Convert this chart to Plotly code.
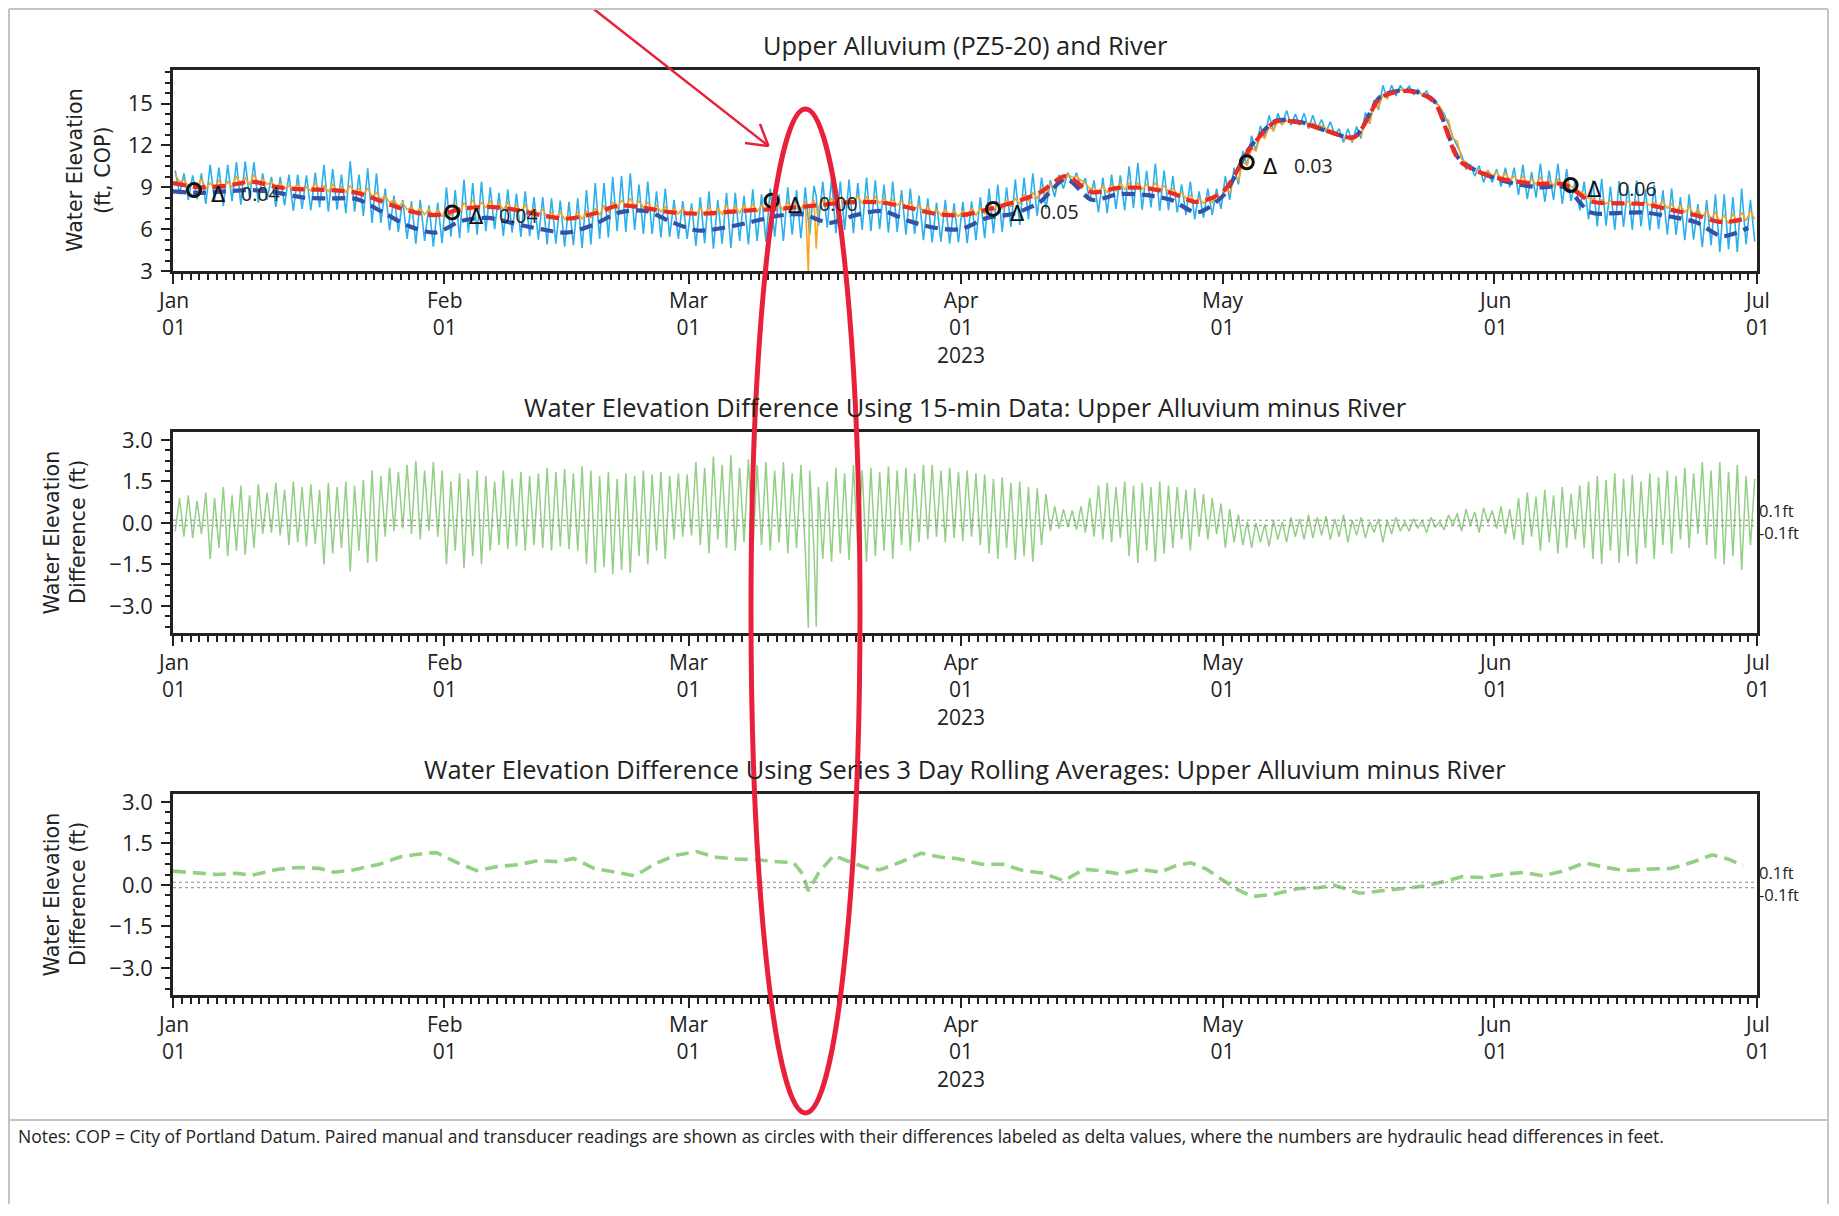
import numpy as np
import pandas as pd
import plotly.graph_objects as go

# ---------------- data ----------------
START = "2023-01-01"
month_names = ["Jan", "Feb", "Mar", "Apr", "May", "Jun", "Jul"]
month_starts = ["2023-01-01", "2023-02-01", "2023-03-01", "2023-04-01",
                "2023-05-01", "2023-06-01", "2023-07-01"]
day_label = "01"
year_label = "2023"
year_month = "Apr"

# Upper alluvium 15-min data, daily low points (day 0 .. 180)
alluv_base = [
    9.4, 9.1, 8.95, 8.9, 8.9, 8.95, 9.0, 9.1, 9.2, 9.3,
    9.2, 9.05, 8.9, 8.8, 8.75, 8.75, 8.75, 8.7, 8.7, 8.65,
    8.6, 8.5, 8.35, 8.15, 7.9, 7.65, 7.4, 7.2, 7.05, 6.95,
    6.9, 6.95, 7.15, 7.35, 7.5, 7.55, 7.5, 7.4, 7.35, 7.3,
    7.2, 7.05, 6.9, 6.8, 6.7, 6.65, 6.7, 6.8, 7.0, 7.25,
    7.45, 7.6, 7.65, 7.55, 7.4, 7.25, 7.15, 7.1, 7.05, 7.0,
    7.0, 7.0, 7.05, 7.1, 7.15, 7.2, 7.25, 7.3, 7.35, 7.35,
    7.4, 7.45, 7.5, 7.55, 7.6, 7.7, 7.75, 7.8, 7.85, 7.85,
    7.85, 7.8, 7.7, 7.6, 7.45, 7.3, 7.15, 7.0, 6.95, 6.9,
    6.9, 7.0, 7.1, 7.3, 7.45, 7.6, 7.8, 8.0, 8.2, 8.5,
    8.9, 9.4, 9.7, 9.5, 8.9, 8.55, 8.6, 8.75, 8.85, 8.85,
    8.85, 8.85, 8.8, 8.7, 8.5, 8.2, 7.95, 7.85, 7.9, 8.15,
    8.6, 9.5, 10.6, 11.6, 12.5, 13.1, 13.5, 13.65, 13.6, 13.5,
    13.4, 13.2, 12.9, 12.5, 12.3, 12.7, 13.6, 14.7, 15.4, 15.75,
    15.85, 15.8, 15.65, 15.4, 14.8, 13.8, 12.3, 10.8, 10.2, 9.9,
    9.8, 9.65, 9.5, 9.35, 9.25, 9.2, 9.15, 9.1, 9.1, 9.05,
    8.7, 8.2, 7.9, 7.8, 7.75, 7.75, 7.7, 7.7, 7.7, 7.65,
    7.5, 7.3, 7.2, 7.05, 6.9, 6.75, 6.55, 6.4, 6.45, 6.6, 6.7,
]
# Upper alluvium 15-min data, daily peak points
alluv_peak = [
    9.9, 9.5, 9.3, 9.6, 9.3, 9.5, 9.4, 9.8, 9.7, 9.9,
    9.6, 9.4, 9.3, 9.1, 9.2, 9.0, 9.3, 9.1, 9.2, 9.0,
    9.1, 8.9, 8.9, 8.6, 8.4, 8.1, 7.9, 7.6, 7.5, 7.4,
    7.4, 7.5, 7.8, 7.9, 8.1, 7.9, 8.0, 7.8, 7.9, 7.7,
    7.7, 7.5, 7.4, 7.2, 7.2, 7.0, 7.2, 7.3, 7.5, 7.7,
    7.9, 8.1, 8.2, 8.0, 7.9, 7.7, 7.6, 7.5, 7.5, 7.4,
    7.5, 7.6, 7.5, 7.7, 7.6, 7.7, 7.8, 7.7, 7.9, 7.8,
    7.9, 7.9, 8.0, 8.1, 8.1, 8.2, 8.3, 8.2, 8.4, 8.3,
    8.3, 8.2, 8.1, 8.0, 7.9, 7.7, 7.6, 7.4, 7.4, 7.3,
    7.3, 7.5, 7.5, 7.8, 7.9, 8.1, 8.2, 8.5, 8.6, 8.9,
    9.2, 9.7, 9.9, 9.8, 9.3, 9.0, 9.1, 9.2, 9.3, 9.3,
    9.3, 9.2, 9.3, 9.1, 8.9, 8.6, 8.4, 8.2, 8.3, 8.5,
    8.9, 9.7, 10.8, 11.8, 12.7, 13.3, 13.7, 13.8, 13.75, 13.7,
    13.6, 13.4, 13.1, 12.7, 12.5, 12.9, 13.8, 14.9, 15.6, 15.9,
    16.0, 15.95, 15.8, 15.55, 15.0, 14.0, 12.5, 11.0, 10.5, 10.2,
    10.2, 10.1, 10.0, 9.8, 9.8, 9.6, 9.7, 9.5, 9.6, 9.4,
    8.9, 8.5, 8.2, 8.1, 8.05, 8.0, 8.0, 8.0, 7.95, 7.9,
    8.0, 7.8, 7.7, 7.6, 7.4, 7.3, 7.2, 7.0, 7.1, 7.2, 7.3,
]
# 15-min difference (alluvium minus river): daily high and low points
diff_hi = [
    0.9, 1.0, 0.8, 1.1, 0.9, 1.3, 1.0, 1.35, 1.0, 1.4, 1.1,
    1.45, 1.2, 1.5, 1.3, 1.4, 1.2, 1.45, 1.3, 1.5, 1.35, 1.55,
    1.9, 1.7, 2.0, 1.85, 2.1, 2.25, 1.9, 2.2, 1.9,
    1.5, 1.8, 1.6, 1.9, 1.7, 1.5, 1.9, 1.6, 1.85, 1.7,
    1.8, 2.0, 1.85, 1.95, 1.8, 2.05, 1.9,
    1.7, 1.85, 1.6, 1.8, 1.7, 1.9, 1.75,
    1.85, 1.7, 1.8, 1.75,
    2.2, 2.0, 2.4, 2.1, 2.45, 2.0, 2.3, 2.1, 2.2,
    1.9, 2.2, 1.8, 2.1, 1.9,
    1.3, 1.5, 2.0, 1.8, 2.1, 1.9, 2.0, 1.85, 2.05, 1.9, 2.0, 1.8, 2.1,
    2.1, 1.9, 2.0, 1.85, 1.9, 1.8, 1.75, 1.6, 1.65, 1.45, 1.5, 1.3, 1.25, 1.05,
    0.6, 0.5, 0.45, 0.6, 0.9,
    1.35, 1.45, 1.3, 1.5, 1.35, 1.45, 1.3, 1.5, 1.35, 1.3, 1.2, 1.25, 1.05,
    0.9, 0.7, 0.5, 0.3,
    0.05, 0.0, -0.05, 0.1, 0.05, 0.2, 0.15, 0.3, 0.2,
    0.25, 0.15, 0.3, 0.1, 0.2, 0.05, 0.15, 0.1, 0.2, 0.05,
    0.15, 0.1, 0.2, 0.05, 0.3, 0.35,
    0.5, 0.4, 0.55, 0.45, 0.6, 0.5,
    0.9, 1.1, 0.95, 1.2, 1.0, 1.3, 1.05, 1.35,
    1.5, 1.7, 1.55, 1.8, 1.6, 1.75, 1.5, 1.8, 1.65, 1.9, 1.7,
    2.0, 1.8, 2.2, 1.9, 2.2, 1.85, 2.1, 1.7, 1.6,
]
diff_lo = [
    -0.3, -0.5, -0.55, -0.4,
    -1.3, -0.9, -1.2, -1.0, -1.15, -0.9,
    -0.4, -0.35, -0.45,
    -0.8, -0.7, -0.85, -0.75, -1.5, -1.1,
    -0.9, -1.75, -1.0, -1.45, -1.4,
    -0.5, -0.3, -0.2, -0.4, -0.6, -0.3, -0.5,
    -1.5, -1.0, -1.65, -1.2, -1.5,
    -1.0, -0.8, -0.95, -0.85, -1.0, -0.8, -0.9, -1.0, -0.85, -0.95, -1.0,
    -1.5, -1.8, -1.6, -1.85, -1.7, -1.8,
    -1.2, -1.5, -1.0, -1.3,
    -0.6, -0.5,
    -0.45, -0.8, -1.1, -0.6, -0.9, -1.0, -0.7, -1.05, -0.8,
    -1.0, -0.7, -1.1, -0.9, -1.0,
    -1.0, -1.3, -1.4, -1.1, -1.35, -0.9, -1.4, -1.2, -1.0, -1.3, -0.8, -1.0, -0.7,
    -0.6, -0.5, -0.7, -0.55, -0.65, -0.5, -0.8, -1.1, -1.3, -0.9, -1.35, -1.2, -1.4, -0.8,
    -0.3, -0.2, -0.15, -0.25, -0.35,
    -0.5, -0.6, -0.7, -0.55, -1.2, -1.45, -1.0, -1.4, -1.1, -0.9, -0.6, -1.0, -0.5,
    -0.6, -0.4, -0.9, -0.7,
    -0.8, -0.9, -0.7, -0.85, -0.6, -0.7, -0.5, -0.6, -0.55,
    -0.45, -0.6, -0.5, -0.7, -0.45, -0.55, -0.35, -0.7, -0.4, -0.3,
    -0.3, -0.2, -0.35, -0.15, -0.25, -0.1,
    -0.3, -0.1, -0.35, 0.0, -0.2, -0.4,
    -0.6, -0.8, -0.5, -1.0, -0.7, -1.1, -0.9, -0.6,
    -0.9, -1.3, -1.5, -1.0, -1.45, -1.2, -1.5, -0.9, -1.3, -0.8, -1.1,
    -0.6, -0.9, -0.4, -0.8, -1.3, -1.5, -1.2, -1.7, -0.8,
]
# transducer glitch in mid-March (day offsets, alluvium value, difference)
glitch_days = [72.6, 73.5]
glitch_alluv = [2.9, 4.6]
glitch_diff = [-3.8, -3.75]

# 3-day rolling averages, every 3 days (day 0 .. 180)
avg_days = list(range(0, 181, 3))
alluv_avg = [9.3, 9.0, 9.1, 9.4, 9.0, 8.85, 8.8, 8.6, 7.95, 7.3,
             7.0, 7.45, 7.6, 7.4, 7.0, 6.75, 7.1, 7.7, 7.5, 7.2,
             7.1, 7.2, 7.35, 7.45, 7.6, 7.8, 7.95, 7.9, 7.55, 7.1,
             7.0, 7.4, 7.9, 8.6, 9.8, 8.65, 8.95, 8.95, 8.6, 7.95,
             8.7, 11.7, 13.7, 13.6, 13.0, 12.6, 15.4, 15.9, 15.2, 10.9,
             9.9, 9.45, 9.25, 9.2, 8.0, 7.85, 7.8, 7.4, 7.0, 6.5, 6.8]
river_avg = [8.7, 8.6, 8.7, 8.8, 8.6, 8.25, 8.2, 8.15, 7.2, 6.2,
             5.75, 6.6, 6.8, 6.4, 6.0, 5.75, 6.3, 7.2, 7.3, 6.5,
             5.9, 6.1, 6.5, 6.95, 7.05, 6.45, 7.0, 7.3, 6.6, 6.1,
             6.0, 6.8, 7.1, 7.9, 9.6, 8.1, 8.5, 8.45, 8.1, 7.2,
             8.4, 11.8, 13.75, 13.65, 13.0, 12.6, 15.5, 15.95, 15.25, 11.0,
             9.9, 9.3, 9.0, 9.0, 7.2, 7.15, 7.2, 6.9, 6.5, 5.5, 6.1]

# rolling-average difference (bottom panel)
avgdiff_days = [0, 1.5, 5, 7.3, 9, 12, 14.3, 16.7, 18.4, 20.7, 23.6, 26, 28.9, 30.1,
                32.4, 34.7, 37.1, 39.4, 41.7, 44.1, 45.8, 48.1, 51, 52.8, 55.1, 57.4,
                59.8, 62.1, 64.4, 66.8, 69.1, 70.9, 72, 72.6, 73.8, 75.5, 77.3, 79.6,
                80.8, 83.1, 85.5, 87.8, 89.5, 92.4, 94.8, 97.1, 99.4, 101.8, 104.1,
                105.8, 108.2, 110.5, 112.8, 114.6, 116.3, 118.1, 119.8, 121.6, 123.3,
                125.7, 128.6, 130.9, 132.7, 135.6, 137.9, 140.3, 143.2, 145.5, 147.3,
                149.6, 152, 154.3, 156.6, 159, 161.3, 163.6, 166, 168.3, 171.2, 173.6,
                175.9, 177.7, 179.4]
avgdiff_vals = [0.5, 0.46, 0.38, 0.42, 0.35, 0.57, 0.63, 0.6, 0.46, 0.55, 0.75, 1.02,
                1.15, 1.17, 0.82, 0.52, 0.67, 0.73, 0.88, 0.84, 0.96, 0.6, 0.42, 0.33,
                0.77, 1.07, 1.21, 1.0, 0.94, 0.91, 0.84, 0.81, 0.38, -0.22, 0.45, 1.07,
                0.84, 0.58, 0.55, 0.82, 1.15, 1.0, 0.96, 0.75, 0.75, 0.52, 0.43, 0.15,
                0.57, 0.52, 0.4, 0.57, 0.46, 0.7, 0.8, 0.57, 0.21, -0.16, -0.42, -0.34,
                -0.13, -0.1, -0.01, -0.3, -0.22, -0.13, -0.03, 0.15, 0.3, 0.27, 0.39,
                0.45, 0.33, 0.52, 0.8, 0.64, 0.52, 0.57, 0.6, 0.82, 1.09, 0.94, 0.7]

# paired manual / transducer readings
pair_days = [2.4, 31.9, 68.4, 93.7, 122.7, 159.7]
pair_vals = [8.8, 7.2, 8.04, 7.45, 10.79, 9.16]
pair_delta = ["0.04", "0.04", "0.00", "0.05", "0.03", "0.06"]

# ---------------- build series ----------------
base_ts = pd.Timestamp(START)


def to_dt(days):
    return base_ts + pd.to_timedelta(np.asarray(days, dtype=float), unit="D")


n = len(alluv_base)
day_idx = np.arange(n)
t = np.empty(2 * n)
t[0::2] = day_idx + 0.25
t[1::2] = day_idx + 0.75
alluv = np.empty(2 * n)
alluv[0::2] = alluv_peak
alluv[1::2] = alluv_base
diff = np.empty(2 * n)
diff[0::2] = diff_lo
diff[1::2] = diff_hi

t = np.concatenate([t, glitch_days])
alluv = np.concatenate([alluv, glitch_alluv])
diff = np.concatenate([diff, glitch_diff])
order = np.argsort(t)
t, alluv, diff = t[order], alluv[order], diff[order]
river = alluv - diff
tx = to_dt(t)

# ---------------- layout helpers ----------------
# The page body keeps its default 8px margin; the figure is kept a bit smaller
# than the window so the page never scrolls, and page-pixel positions are
# converted with that offset.
OFF = 8
FW, FH = 1821, 1196


def fx(px):
    return (px - OFF) / FW


def fy(py):
    return 1 - (py - OFF) / FH


X0, X1 = 173, 1757
panels = [(70, 271), (432, 633), (794, 995)]

BLACK = "#222222"
RED = "#E8203A"
TICKFONT = dict(family="Open Sans", size=22, color=BLACK)
XLABFONT = dict(family="Open Sans", size=21, color=BLACK)

fig = go.Figure()

# top panel
fig.add_trace(go.Scatter(x=tx, y=river, mode="lines",
                         line=dict(color="#2AB0EA", width=1.6),
                         xaxis="x", yaxis="y", showlegend=False))
fig.add_trace(go.Scatter(x=tx, y=alluv, mode="lines",
                         line=dict(color="#F9A51C", width=1.6),
                         xaxis="x", yaxis="y", showlegend=False))
fig.add_trace(go.Scatter(x=to_dt(avg_days), y=river_avg, mode="lines",
                         line=dict(color="#3352A8", width=4.2, dash="13px,7px", shape="spline", smoothing=0.8),
                         xaxis="x", yaxis="y", showlegend=False))
fig.add_trace(go.Scatter(x=to_dt(avg_days), y=alluv_avg, mode="lines",
                         line=dict(color="#EE2A24", width=4.2, dash="13px,7px", shape="spline", smoothing=0.8),
                         xaxis="x", yaxis="y", showlegend=False))
fig.add_trace(go.Scatter(x=to_dt(pair_days), y=pair_vals, mode="markers",
                         marker=dict(symbol="circle-open", size=13, color="#111",
                                     line=dict(width=3, color="#111")),
                         xaxis="x", yaxis="y", showlegend=False))

# middle panel
fig.add_trace(go.Scatter(x=tx, y=diff, mode="lines",
                         line=dict(color="#93D086", width=1.5),
                         xaxis="x2", yaxis="y2", showlegend=False))
# bottom panel
fig.add_trace(go.Scatter(x=to_dt(avgdiff_days), y=avgdiff_vals, mode="lines",
                         line=dict(color="#93D086", width=3.6, dash="13px,7px"),
                         xaxis="x3", yaxis="y3", showlegend=False))

xaxis_common = dict(
    type="date", range=[month_starts[0], month_starts[-1]],
    tickvals=month_starts, showticklabels=False, automargin=False,
    showline=True, linecolor=BLACK, linewidth=2.5, mirror=True,
    ticks="outside", ticklen=10, tickwidth=2, tickcolor=BLACK,
    minor=dict(dtick=86400000, tick0=START, ticks="outside", ticklen=6,
               tickwidth=1.5, tickcolor=BLACK, showgrid=False),
    showgrid=False, zeroline=False,
    domain=[fx(X0), fx(X1)],
)
yaxis_common = dict(
    showline=True, linecolor=BLACK, linewidth=2.5, mirror=True, automargin=False,
    ticks="outside", ticklen=9, tickwidth=2, tickcolor=BLACK,
    showgrid=False, zeroline=False, tickfont=TICKFONT, ticklabelstandoff=4,
)

diff_ticks = [-3.0, -1.5, 0.0, 1.5, 3.0]
diff_ticktext = ["\u22123.0", "\u22121.5", "0.0", "1.5", "3.0"]
elev_ticks = [3, 6, 9, 12, 15]

layout = dict(
    template="none",
    width=FW, height=FH, autosize=False,
    margin=dict(l=0, r=0, t=0, b=0, pad=0, autoexpand=False),
    paper_bgcolor="white", plot_bgcolor="white",
    showlegend=False, hovermode=False,
)
for i, (top, bot) in enumerate(panels, start=1):
    suffix = "" if i == 1 else str(i)
    xa = dict(xaxis_common, anchor="y" + suffix)
    if i == 1:
        ya = dict(yaxis_common, range=[3, 17.4], tickvals=elev_ticks,
                  ticktext=[str(v) for v in elev_ticks],
                  minor=dict(dtick=0.75, tick0=3, ticks="outside", ticklen=5,
                             tickwidth=1.5, tickcolor=BLACK, showgrid=False))
    else:
        ya = dict(yaxis_common, range=[-3.98, 3.29], tickvals=diff_ticks,
                  ticktext=diff_ticktext,
                  minor=dict(dtick=0.375, tick0=0, ticks="outside", ticklen=5,
                             tickwidth=1.5, tickcolor=BLACK, showgrid=False))
    ya["domain"] = [fy(bot), fy(top)]
    ya["anchor"] = "x" + suffix
    layout["xaxis" + suffix] = xa
    layout["yaxis" + suffix] = ya

fig.update_layout(**layout)

# x tick labels (month / day / year lines) - one multi-line label per month
for i, (top, bot) in enumerate(panels, start=1):
    xref = "x" if i == 1 else f"x{i}"
    for m, ms in zip(month_names, month_starts):
        lines = [m, day_label] + ([year_label] if m == year_month else [])
        fig.add_annotation(text="<br>".join(lines), x=ms, xref=xref, yref="paper",
                           y=fy(bot + 14), showarrow=False, xanchor="center", yanchor="top",
                           borderpad=0, font=XLABFONT)

# titles
titles = [
    ("Upper Alluvium (PZ5-20) and River", 44.5),
    ("Water Elevation Difference Using 15-min Data: Upper Alluvium minus River", 407),
    ("Water Elevation Difference Using Series 3 Day Rolling Averages: Upper Alluvium minus River", 769),
]
for text, py in titles:
    fig.add_annotation(text=text, xref="paper", yref="paper", x=fx((X0 + X1) / 2), y=fy(py),
                       showarrow=False, xanchor="center", yanchor="middle",
                       font=dict(family="Open Sans", size=25.4, color=BLACK))

# y-axis titles
ytitles = [
    (("Water Elevation", 74.5), ("(ft, COP)", 102.5), 170.5),
    (("Water Elevation", 51), ("Difference (ft)", 77.5), 532.5),
    (("Water Elevation", 51), ("Difference (ft)", 77.5), 894.5),
]
for (l1, l2, cy) in ytitles:
    for txt, cx in (l1, l2):
        fig.add_annotation(text=txt, xref="paper", yref="paper", x=fx(cx), y=fy(cy),
                           showarrow=False, textangle=-90, xanchor="center", yanchor="middle",
                           font=dict(family="DejaVu Sans", size=20.7, color=BLACK))

# delta annotations next to paired readings
for dday, val, lab in zip(pair_days, pair_vals, pair_delta):
    fig.add_annotation(text="\u0394", x=to_dt([dday])[0], y=val, xref="x", yref="y",
                       showarrow=False, xshift=24, yshift=-5,
                       font=dict(family="DejaVu Sans", size=21, color="#111"))
    fig.add_annotation(text=lab, x=to_dt([dday])[0], y=val, xref="x", yref="y",
                       showarrow=False, xanchor="left", xshift=45, yshift=-3,
                       font=dict(family="Open Sans", size=19.5, color="#222"))

# +/-0.1 ft reference lines and labels
for ax in ("2", "3"):
    for v, lab, ys in ((0.1, "0.1ft", 9.5), (-0.1, "-0.1ft", -7)):
        fig.add_shape(type="line", xref=f"x{ax} domain", yref=f"y{ax}", x0=0, x1=1, y0=v, y1=v,
                      line=dict(color="#8a8a8a", width=1, dash="dot"))
        fig.add_annotation(text=lab, xref=f"x{ax} domain", yref=f"y{ax}", x=1, y=v,
                           xanchor="left", yanchor="middle", showarrow=False, xshift=1, yshift=ys,
                           borderpad=0, font=dict(family="Open Sans", size=16.5, color=BLACK))

# red ellipse and arrow (highlight)
fig.add_shape(type="circle", xref="paper", yref="paper",
              x0=fx(751), x1=fx(860), y0=fy(1113), y1=fy(109),
              line=dict(color=RED, width=5), layer="above")
arrow_tip = (768.5, 146)
for (ax0, ay0) in ((572, -8), (745, 143), (760, 124)):
    fig.add_shape(type="line", xref="paper", yref="paper",
                  x0=fx(ax0), y0=fy(ay0), x1=fx(arrow_tip[0]), y1=fy(arrow_tip[1]),
                  line=dict(color=RED, width=2.5), layer="above")

# page frame and notes
frame = "#c4c4c4"
for (a, b, c, d) in ((9, 9, 1828, 9), (9, 9, 9, 1216), (1828, 9, 1828, 1216), (9, 1120, 1828, 1120)):
    fig.add_shape(type="line", xref="paper", yref="paper", x0=fx(a), y0=fy(b), x1=fx(c), y1=fy(d),
                  line=dict(color=frame, width=2))
notes = ("Notes: COP = City of Portland Datum. Paired manual and transducer readings are shown as circles "
         "with their differences labeled as delta values, where the numbers are hydraulic head differences in feet.")
fig.add_annotation(text=notes, xref="paper", yref="paper", x=fx(16), y=fy(1136),
                   xanchor="left", yanchor="middle", showarrow=False,
                   font=dict(family="Open Sans", size=17.5, color=BLACK))

fig.write_html("out.html", config={"displayModeBar": False})
